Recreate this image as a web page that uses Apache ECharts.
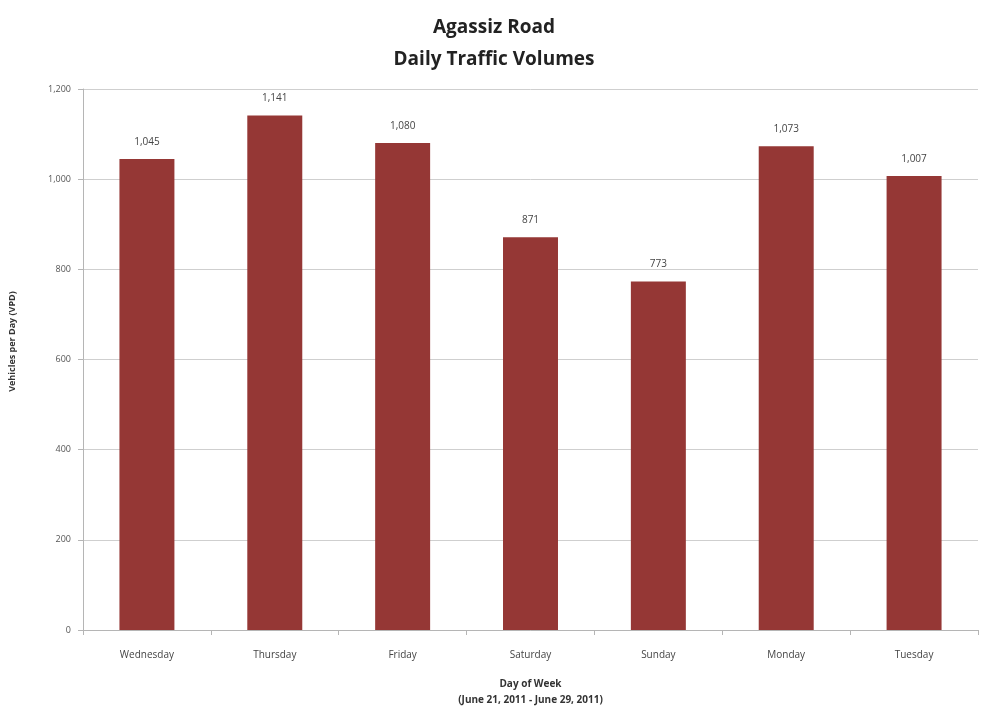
<!doctype html>
<html>
<head>
  <meta charset="utf-8">
  <title>Agassiz Road</title>
  <script src="https://cdn.jsdelivr.net/npm/echarts@6/dist/echarts.min.js"></script>
  <style>
    html, body { margin: 0; padding: 0; background: #fff; }
    #main { width: 988px; height: 717px; }
  </style>
</head>
<body>
  <div id="main"></div>
<script>
// data
var days = ['Wednesday', 'Thursday', 'Friday', 'Saturday', 'Sunday', 'Monday', 'Tuesday'];
var volumes = [1045, 1141, 1080, 871, 773, 1073, 1007];
var yTicks = [0, 200, 400, 600, 800, 1000, 1200];

var font = '"Open Sans", "Liberation Sans", sans-serif';

var chart = echarts.init(document.getElementById('main'));
chart.setOption({
  backgroundColor: '#fff',
  animation: false,
  title: {
    text: 'Agassiz Road\nDaily Traffic Volumes',
    left: 'center',
    top: 7,
    textStyle: { fontFamily: font, fontSize: 19, fontWeight: 'bold', color: '#222', lineHeight: 32 }
  },
  grid: { left: 83, right: 10, top: 89, bottom: 87 },
  xAxis: {
    type: 'category',
    data: days,
    name: 'Day of Week\n(June 21, 2011 - June 29, 2011)',
    nameLocation: 'middle',
    nameGap: 46,
    nameTextStyle: { fontFamily: font, fontSize: 10, fontWeight: 'bold', color: '#333', lineHeight: 16 },
    axisLine: { lineStyle: { color: '#b5b5b5' } },
    axisTick: { show: true, length: 5, lineStyle: { color: '#b5b5b5' } },
    axisLabel: { fontFamily: font, fontSize: 10, color: '#444', margin: 20 }
  },
  yAxis: {
    type: 'value',
    min: yTicks[0],
    max: yTicks[yTicks.length - 1],
    interval: yTicks[1] - yTicks[0],
    name: 'Vehicles per Day (VPD)',
    nameLocation: 'middle',
    nameGap: 66,
    nameTextStyle: { fontFamily: font, fontSize: 9, fontWeight: 'bold', color: '#333', padding: [0, 0, 0, 36] },
    axisLine: { show: true, lineStyle: { color: '#b5b5b5' } },
    axisTick: { show: true, length: 5, lineStyle: { color: '#b5b5b5' } },
    axisLabel: {
      fontFamily: font, fontSize: 9, color: '#555', margin: 12,
      formatter: function (v) { return v.toLocaleString('en-US'); }
    },
    splitLine: { lineStyle: { color: '#cfcfcf' } }
  },
  series: [{
    type: 'bar',
    data: volumes,
    barWidth: '43%',
    itemStyle: { color: '#953735' },
    label: {
      show: true,
      position: 'top',
      distance: 12,
      fontFamily: font,
      fontSize: 10,
      color: '#444',
      formatter: function (p) { return p.value.toLocaleString('en-US'); }
    }
  }]
});
</script>
</body>
</html>
